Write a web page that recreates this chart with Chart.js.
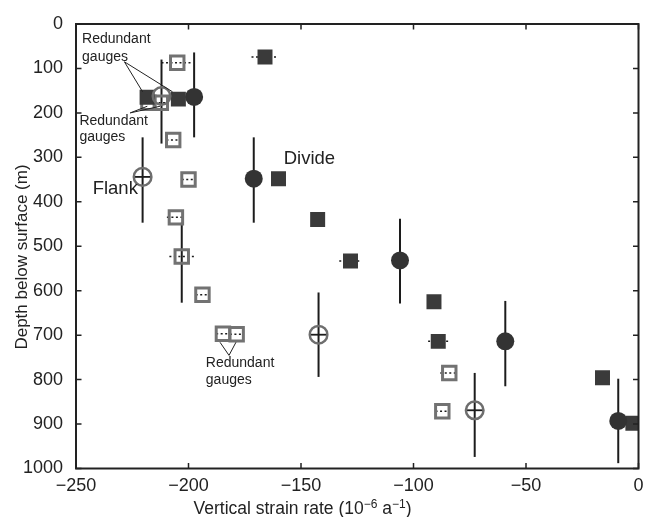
<!DOCTYPE html>
<html><head><meta charset="utf-8">
<script src="https://cdn.jsdelivr.net/npm/chart.js@4/dist/chart.umd.min.js"></script>
<style>html,body{margin:0;padding:0;background:#fff;}</style>
</head><body>
<canvas id="c" width="651" height="517"></canvas>
<script>
// ---- axis ticks ----
const xTickValues = [-250, -200, -150, -100, -50, 0];
const yTickValues = [0, 100, 200, 300, 400, 500, 600, 700, 800, 900, 1000];

// ---- Divide: filled squares ----
const divSqX    = [-166, -218.4, -204.5, -160, -142.6, -128, -90.9, -89, -16, -2.5];
const divSqY    = [74, 165, 169, 348, 440, 533, 625, 714, 796, 898];
const divSqXErr = [6, 0, 0, 0, 0, 5, 0, 4.5, 0, 0];

// ---- Divide: filled circles ----
const divCiX    = [-197.5, -171, -106, -59.2, -9];
const divCiY    = [164, 348, 532, 714, 893];
const divCiYLo  = [64, 255, 438, 623, 798];
const divCiYHi  = [255, 447, 629, 815, 988];
const divCiXErr = [5, 0, 3.5, 0, 0];

// ---- Flank: open circles ----
const flkCiX    = [-212, -220.4, -142.2, -72.8];
const flkCiY    = [162, 344, 699, 869];
const flkCiYLo  = [80, 255, 604, 785];
const flkCiYHi  = [269, 447, 794, 974];
const flkCiXErr = [4, 4, 4, 4];

// ---- Flank: open squares ----
const flkSqX    = [-205, -217.8, -212.3, -206.8, -200, -205.6, -203, -193.8, -184.7, -178.6, -84.1, -87.2];
const flkSqY    = [87, 177, 177, 261, 350, 435, 523, 609, 697, 698, 785, 871];
const flkSqXErr = [7, 3, 3, 3, 3, 4, 5.5, 3, 3, 3, 4, 3];
const flkSqYLo  = [null, null, null, null, null, null, 447, null, null, null, null, null];
const flkSqYHi  = [null, null, null, null, null, null, 627, null, null, null, null, null];

// ---- annotations (data coordinates) ----
const labelTexts = ['Redundant', 'gauges', 'Redundant', 'gauges', 'Flank', 'Divide', 'Redundant', 'gauges'];
const labelX     = [-247.3, -247.3, -248.5, -248.5, -242.6, -157.7, -192.3, -192.3];
const labelY     = [34.5, 73.6, 218, 255, 370, 302.5, 763, 802];
const labelSize  = [14, 14, 14, 14, 18.5, 18.5, 14, 14];
// leader lines: [x1,y1,x2,y2]
const leaderLines = [
  [-228.5, 85, -220.4, 152.5],
  [-228.5, 85, -207.1, 152.5],
  [-225.9, 200, -218.3, 185],
  [-225.9, 200, -212.6, 185],
  [-182, 745.5, -186, 716],
  [-182, 745.5, -178.9, 716]
];

const FONT = '"Liberation Sans", Arial, Helvetica, sans-serif';
const INK = '#222';
const pts = (xs, ys) => xs.map((x, i) => ({x: x, y: ys[i]}));
const fmt = v => v < 0 ? '\u2212' + Math.abs(v) : String(v);

const errPlugin = {
  id: 'errs',
  beforeDatasetsDraw(chart) {
    const ctx = chart.ctx, xs = chart.scales.x, ys = chart.scales.y;
    const px = v => xs.getPixelForValue(v), py = v => ys.getPixelForValue(v);
    ctx.save();
    ctx.strokeStyle = '#1c1c1c';
    ctx.lineWidth = 2;
    ctx.setLineDash([]);
    const vbar = (xArr, lo, hi) => xArr.forEach((x, i) => {
      if (lo[i] == null) return;
      ctx.beginPath(); ctx.moveTo(px(x), py(lo[i])); ctx.lineTo(px(x), py(hi[i])); ctx.stroke();
    });
    vbar(divCiX, divCiYLo, divCiYHi);
    vbar(flkCiX, flkCiYLo, flkCiYHi);
    vbar(flkSqX, flkSqYLo, flkSqYHi);
    ctx.lineWidth = 1.8;
    flkCiX.forEach((x, i) => {
      ctx.beginPath(); ctx.moveTo(px(x - flkCiXErr[i]), py(flkCiY[i])); ctx.lineTo(px(x + flkCiXErr[i]), py(flkCiY[i])); ctx.stroke();
    });
    ctx.lineWidth = 1.5;
    ctx.setLineDash([2, 2.5]);
    const hbar = (xArr, yArr, e) => xArr.forEach((x, i) => {
      if (!e[i]) return;
      ctx.beginPath(); ctx.moveTo(px(x - e[i]), py(yArr[i])); ctx.lineTo(px(x + e[i]), py(yArr[i])); ctx.stroke();
    });
    hbar(divSqX, divSqY, divSqXErr);
    hbar(divCiX, divCiY, divCiXErr);
    hbar(flkSqX, flkSqY, flkSqXErr);
    ctx.restore();
  },
  afterDraw(chart) {
    const ctx = chart.ctx, xs = chart.scales.x, ys = chart.scales.y, a = chart.chartArea;
    const px = v => xs.getPixelForValue(v), py = v => ys.getPixelForValue(v);
    ctx.save();
    ctx.strokeStyle = INK; ctx.lineWidth = 2; ctx.setLineDash([]);
    ctx.strokeRect(a.left, a.top, a.right - a.left, a.bottom - a.top);
    ctx.lineWidth = 1.5;
    const tl = 5.5;
    xTickValues.forEach(v => {
      const x = px(v);
      ctx.beginPath(); ctx.moveTo(x, a.bottom); ctx.lineTo(x, a.bottom - tl);
      ctx.moveTo(x, a.top); ctx.lineTo(x, a.top + tl); ctx.stroke();
    });
    yTickValues.forEach(v => {
      const y = py(v);
      ctx.beginPath(); ctx.moveTo(a.left, y); ctx.lineTo(a.left + tl, y);
      ctx.moveTo(a.right, y); ctx.lineTo(a.right - tl, y); ctx.stroke();
    });
    ctx.lineWidth = 1;
    leaderLines.forEach(l => {
      ctx.beginPath(); ctx.moveTo(px(l[0]), py(l[1])); ctx.lineTo(px(l[2]), py(l[3])); ctx.stroke();
    });
    ctx.fillStyle = INK; ctx.textAlign = 'left'; ctx.textBaseline = 'middle';
    labelTexts.forEach((t, i) => {
      ctx.font = labelSize[i] + 'px ' + FONT;
      ctx.fillText(t, px(labelX[i]), py(labelY[i]));
    });
    ctx.save();
    ctx.translate(22, 257);
    ctx.rotate(-Math.PI / 2);
    ctx.font = '17px ' + FONT;
    ctx.textAlign = 'center'; ctx.textBaseline = 'middle';
    ctx.fillText('Depth below surface (m)', 0, 0);
    ctx.restore();
    const parts = [['Vertical strain rate (10', 17.5, 0], ['\u22126', 12, -6.5], [' a', 17.5, 0], ['\u22121', 12, -6.5], [')', 17.5, 0]];
    ctx.textAlign = 'left'; ctx.textBaseline = 'alphabetic';
    let total = 0;
    parts.forEach(p => { ctx.font = p[1] + 'px ' + FONT; total += ctx.measureText(p[0]).width; });
    let cx = 302.5 - total / 2;
    const base = 514;
    parts.forEach(p => {
      ctx.font = p[1] + 'px ' + FONT;
      ctx.fillText(p[0], cx, base + p[2]);
      cx += ctx.measureText(p[0]).width;
    });
    ctx.restore();
  }
};

new Chart(document.getElementById('c'), {
  type: 'scatter',
  data: {
    datasets: [
      { label: 'Flank (circles)', data: pts(flkCiX, flkCiY), pointStyle: 'circle', pointRadius: 8.8,
        pointBackgroundColor: 'rgba(255,255,255,0)', pointBorderColor: '#6e6e6e', pointBorderWidth: 2.5, clip: 0 },
      { label: 'Divide (circles)', data: pts(divCiX, divCiY), pointStyle: 'circle', pointRadius: 9,
        pointBackgroundColor: '#333333', pointBorderColor: '#333333', pointBorderWidth: 0, clip: 0 },
      { label: 'Divide (squares)', data: pts(divSqX, divSqY), pointStyle: 'rect', pointRadius: 10.6,
        pointBackgroundColor: '#3a3a3a', pointBorderColor: '#3a3a3a', pointBorderWidth: 0, clip: 0 },
      { label: 'Flank (squares)', data: pts(flkSqX, flkSqY), pointStyle: 'rect', pointRadius: 9.5,
        pointBackgroundColor: 'rgba(255,255,255,0)', pointBorderColor: '#727272', pointBorderWidth: 3, clip: 0 }
    ]
  },
  options: {
    responsive: false, animation: false, devicePixelRatio: 1, events: [],
    layout: { padding: { top: 24, right: 9, left: 0, bottom: 0 } },
    plugins: { legend: { display: false }, tooltip: { enabled: false } },
    scales: {
      x: {
        type: 'linear', position: 'bottom', min: -250, max: 0,
        grid: { display: false }, border: { display: false },
        ticks: { stepSize: 50, padding: -1, color: INK, font: { size: 18, family: FONT }, callback: fmt, maxRotation: 0, autoSkip: false },
        afterFit(s) { s.height = 48.5; }
      },
      y: {
        type: 'linear', position: 'left', min: 0, max: 1000, reverse: true,
        grid: { display: false }, border: { display: false },
        ticks: { stepSize: 100, padding: 5, color: INK, font: { size: 18, family: FONT }, callback: fmt, autoSkip: false },
        afterFit(s) { s.width = 76; }
      }
    }
  },
  plugins: [errPlugin]
});
</script>
</body></html>
